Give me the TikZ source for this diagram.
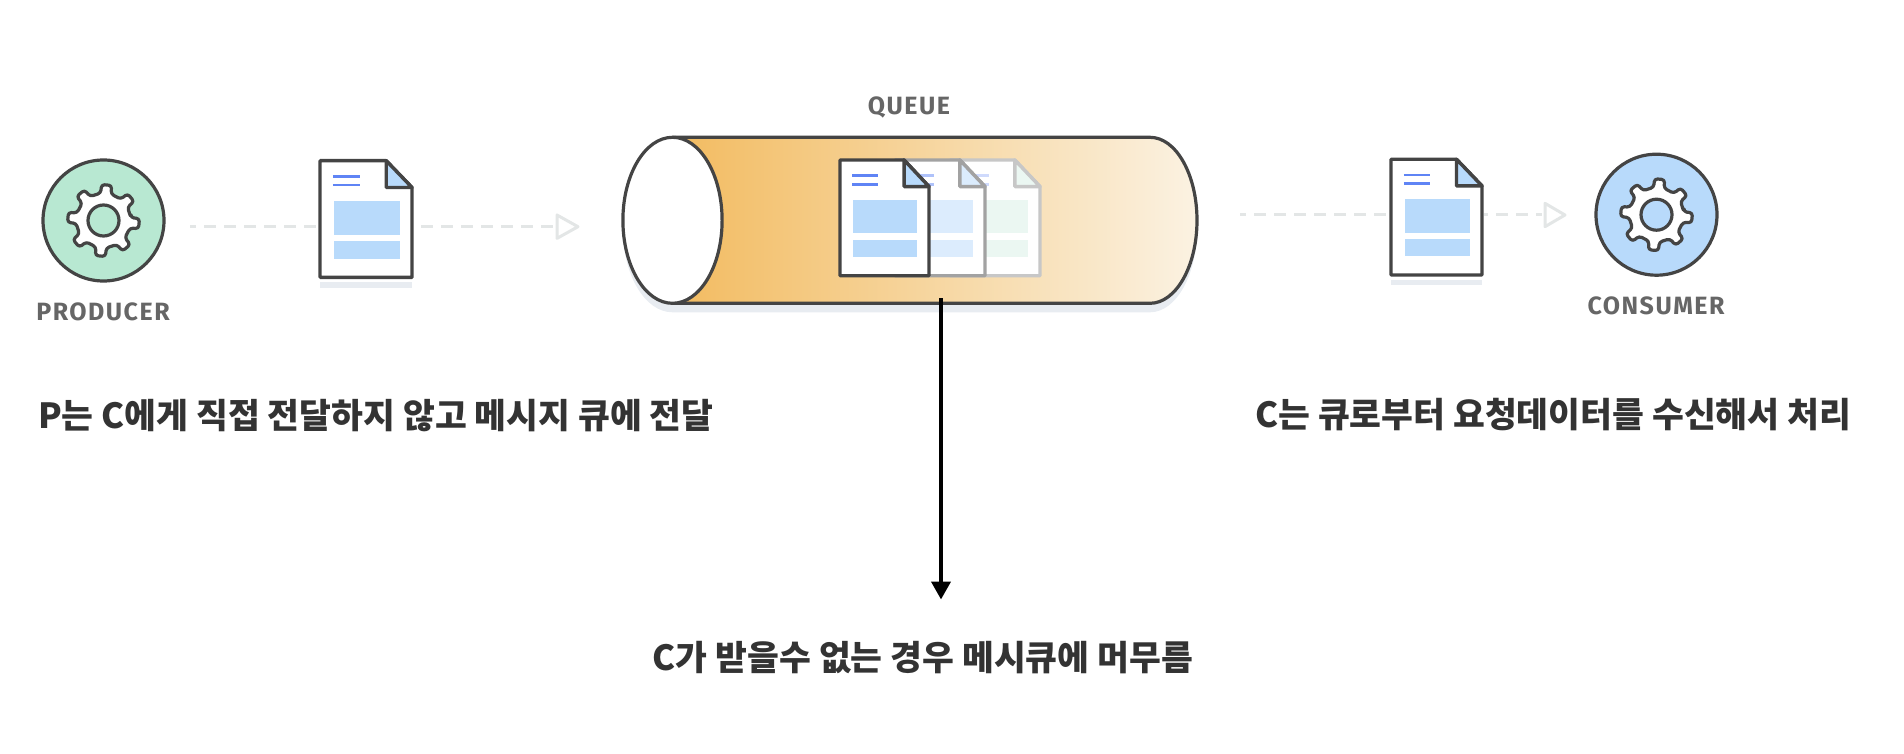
\documentclass[tikz,border=0pt]{standalone}
\usepackage{fontspec}
\usetikzlibrary{arrows.meta}
\newfontfamily\hangulfont{Noto Sans CJK KR}
\newfontfamily\iconfont[LetterSpace=6]{Fira Sans}
\definecolor{inkline}{HTML}{444444}
\definecolor{labelgray}{HTML}{666666}
\definecolor{hintgray}{HTML}{E3E6E6}
\definecolor{shadowgray}{HTML}{E8ECF1}
\definecolor{paperblue}{HTML}{B8DAFB}
\definecolor{paperline}{HTML}{5F84F5}
\definecolor{papermint}{HTML}{EBF7F2}
\definecolor{producermint}{HTML}{B8E8D2}
\definecolor{queuedeep}{HTML}{F2BB60}
\definecolor{queuemid}{HTML}{F6D69A}
\definecolor{queuepale}{HTML}{FBF2E2}
\tikzset{
	iconlabel/.style={font=\iconfont\bfseries\fontsize{25}{25}\selectfont,text=labelgray},
	notelabel/.style={font=\hangulfont\bfseries\fontsize{34.6}{34.6}\selectfont,text=black!80,inner sep=0pt},
	hintline/.style={draw=hintgray,line width=3pt},
	hinttip/.style={draw=hintgray,line width=3pt,fill=white,line join=round},
}
\newcommand{\gearicon}[3]{% center, disc colour, rotation
	\begin{scope}[shift={(#1)}]
		\draw[fill=white,draw=inkline,line width=3.2pt,rounded corners=3pt]
		(#3-11:27.5)
		\foreach \a in {0,45,...,315}{
			-- (#3+\a-11:27.5) -- (#3+\a-8:36) -- (#3+\a+8:36) -- (#3+\a+11:27.5)} -- cycle;
		\draw[fill=#2,draw=inkline,line width=3.2pt] (0,0) circle (15.5);
	\end{scope}}
\begin{document}
\begin{tikzpicture}[x=1pt,y=-1pt,line join=round,
	declare function={qtop=137.3; qbot=303.3; qleft=672.5; qright=1150; qrx=47; qry=83;}]
	\useasboundingbox (0,0) rectangle (1904,754);
	%queue
	\fill[shadowgray] (qleft,qbot+9) arc[start angle=90,end angle=270,x radius=49.6,y radius=qry]
	-- (qright,qtop+9) arc[start angle=-90,end angle=90,x radius=qrx,y radius=qry] -- cycle;
	\path[left color=queuedeep,middle color=queuemid,right color=queuepale,draw=none]
	(qleft,qbot) -- (qright,qbot) arc[start angle=90,end angle=-90,x radius=qrx,y radius=qry] -- (qleft,qtop) -- cycle;
	\draw[inkline,line width=3.2pt] (qleft,qtop) -- (qright,qtop)
	arc[start angle=-90,end angle=90,x radius=qrx,y radius=qry] -- (qleft,qbot);
	\draw[inkline,line width=3.2pt,fill=white] (qleft,220.3) ellipse[x radius=49.6,y radius=qry];
	\node[iconlabel] (queuelabel) at (909,107) {QUEUE};
	%papers
	\foreach \x/\y/\w/\h/\p/\c/\b in {
		320/160.7/92/116.6/100/paperblue/1,
		1391/159.3/91/115.7/100/paperblue/1,
		950/160/90/115.7/30/papermint/0,
		895/160/90/115.7/50/paperblue!50!white/0,
		840/160/89/115.7/100/paperblue/0}{
		\begin{scope}[shift={(\x,\y)},x=\w pt,y=-\h pt]
			\ifnum\b=1 \fill[shadowgray] (0,1.04) rectangle (1,1.09);\fi
			\draw[fill=white,draw=inkline!\p!white,line width=3.4pt] (0,0) -- (.72,0) -- (1,.23) -- (1,1) -- (0,1) -- cycle;
			\draw[fill=\c,draw=inkline!\p!white,line width=3.4pt] (.72,0) -- (.72,.23) -- (1,.23) -- cycle;
			\foreach \t in {.135,.21}
			\draw[paperline!\p!white,line width=2.6pt] (.14,\t) -- (.43,\t);
			\fill[\c] (.15,.345) rectangle (.87,.635);
			\fill[\c] (.15,.69) rectangle (.87,.84);
		\end{scope}}
	%producer
	\draw[fill=producermint,draw=inkline,line width=3.2pt] (103.5,220.5) circle (60.5);
	\gearicon{103.5,220.5}{producermint}{5}
	\node[iconlabel] (producerlabel) at (103,312) {PRODUCER};
	%consumer
	\draw[fill=paperblue,draw=inkline,line width=3.2pt] (1656.5,214.7) circle (60.5);
	\gearicon{1656.5,214.7}{paperblue}{5}
	\node[iconlabel] (consumerlabel) at (1656,306) {CONSUMER};
	%hints
	\path (190,226.7) coordinate (P0) (320,226.7) coordinate (P1)
	(421,226.7) coordinate (P2) (557,226.7) coordinate (P3)
	(1240,215) coordinate (C0) (1391,215) coordinate (C1)
	(1484,215) coordinate (C2) (1545,215) coordinate (C3);
	\foreach \u/\v/\ph in {P0/P1/6,P2/P3/0,C0/C1/6,C2/C3/8}
	\draw[hintline,dash pattern=on 12pt off 8pt,dash phase=\ph pt] (\u) -- ([xshift=-3pt]\v);
	\foreach \v/\l in {P3/21,C3/20}
	\draw[hinttip] (\v)++(0,-11.7) -- ++(\l,11.7) -- ++(-\l,11.7) -- cycle;
	%notes
	\node[notelabel,anchor=west] (noteleft) at (38,416) {P는 C에게 직접 전달하지 않고 메시지 큐에 전달};
	\node[notelabel,anchor=west] (noteright) at (1255,415) {C는 큐로부터 요청데이터를 수신해서 처리};
	\node[notelabel,anchor=west] (notebottom) at (652.7,658) {C가 받을수 없는 경우 메시큐에 머무름};
	\path (941,298) coordinate (Qdrop) (941,599.5) coordinate (Qend);
	\draw[-{Triangle[length=18pt,width=19pt]},line width=4pt,black] (Qdrop) -- (Qend);
\end{tikzpicture}
\end{document}
